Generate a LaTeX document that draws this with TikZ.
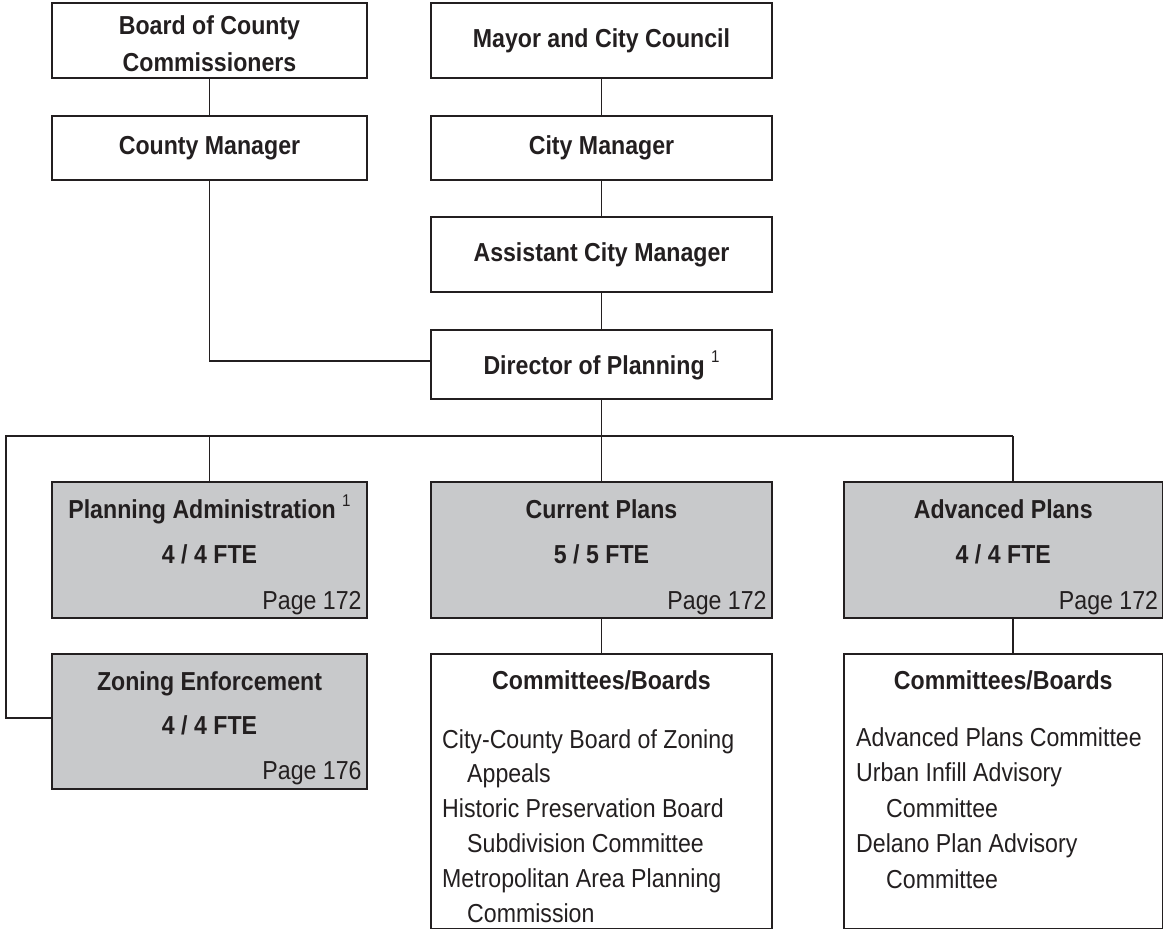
\documentclass[tikz,border=0pt]{standalone}
\usepackage{fontspec}
\setmainfont{Liberation Sans}[FakeStretch=0.89]
\definecolor{ink}{HTML}{231F20}
\definecolor{boxgray}{HTML}{C8C9CB}
\newcommand\fnone{\ \raisebox{12pt}[0pt][0pt]{\fontsize{17}{17}\selectfont\mdseries 1}}
\begin{document}
\begin{tikzpicture}[x=1pt,y=-1pt,
  every node/.style={text=ink,font=\fontsize{26}{35}\selectfont},
  box/.style={draw=ink,rectangle,inner sep=0pt,line width=1.5pt},
  unit/.style={box,fill=boxgray},
  conn/.style={draw=ink,line width=1.5pt,line join=miter},
  hd/.style={font=\fontsize{26}{37}\selectfont\bfseries,align=center,inner sep=0pt},
  hdb/.style={font=\fontsize{26}{37}\selectfont\bfseries,anchor=base,inner sep=0pt},
  pg/.style={anchor=base east,inner sep=0pt},
  li/.style={anchor=base west,inner sep=0pt}]
\useasboundingbox (0,0) rectangle (1164,930);

% boxes
\node[box,minimum width=315pt,minimum height=75pt] (board) at (209.5,40.5) {};
\node[box,minimum width=315pt,minimum height=64pt] (cm) at (209.5,148) {};
\node[box,minimum width=341pt,minimum height=75pt] (mayor) at (601.5,40.5) {};
\node[box,minimum width=341pt,minimum height=64pt] (citym) at (601.5,148) {};
\node[box,minimum width=341pt,minimum height=75pt] (asst) at (601.5,254.5) {};
\node[box,minimum width=341pt,minimum height=69pt] (dir) at (601.5,364.5) {};
\node[unit,minimum width=315pt,minimum height=136pt] (pa) at (209.5,550) {};
\node[unit,minimum width=341pt,minimum height=136pt] (cp) at (601.5,550) {};
\node[unit,minimum width=318.5pt,minimum height=136pt] (ap) at (1003.25,550) {};
\node[unit,minimum width=315pt,minimum height=135pt] (ze) at (209.5,721.5) {};
\node[box,minimum width=341pt,minimum height=274.5pt] (c1) at (601.5,791.25) {};
\node[box,minimum width=318.5pt,minimum height=274.5pt] (c2) at (1003.25,791.25) {};

% connectors
\draw[conn] (board) -- (cm);
\draw[conn] (mayor) -- (citym);
\draw[conn] (citym) -- (asst);
\draw[conn] (asst) -- (dir);
\draw[conn] (cm.south) |- ([yshift=3.5pt]dir.west);
\coordinate (busL) at (6,436);
\coordinate (busR) at (1013,436);
\draw[conn] (busR) -- (busL) |- ([yshift=3.5pt]ze.west);
\draw[conn] (dir.south) -- (cp.north);
\draw[conn] (pa.north) -- (pa.north |- busL);
\coordinate (apn) at ([xshift=9.5pt]ap.north);
\draw[conn] (apn) -- (apn |- busR);
\draw[conn] (cp.south) -- (c1.north);
\draw[conn] ([xshift=9.5pt]ap.south) -- ([xshift=9.5pt]c2.north);

% texts top
\node[hd] (tboard) at ([yshift=-3pt]board.center) {Board of County\\Commissioners};
\node[hd] (tcm) at (cm) {County Manager};
\node[hd] (tmayor) at (mayor) {Mayor and City Council};
\node[hd] (tcity) at (citym) {City Manager};
\node[hd] (tasst) at (asst) {Assistant City Manager};
\node[hd] (tdir) at ([yshift=-3pt]dir.center) {Director of Planning\fnone};

% unit texts
\node[hdb] (tpa1) at ([yshift=-37pt]pa.north) {Planning Administration\fnone};
\node[hdb] (tpa2) at ([yshift=-82pt]pa.north) {4 / 4 FTE};
\node[pg] (tpa3) at ([xshift=-6pt,yshift=-128pt]pa.north east) {Page 172};
\node[hdb] (tcp1) at ([yshift=-37pt]cp.north) {Current Plans};
\node[hdb] (tcp2) at ([yshift=-82pt]cp.north) {5 / 5 FTE};
\node[pg] (tcp3) at ([xshift=-6pt,yshift=-128pt]cp.north east) {Page 172};
\node[hdb] (tap1) at ([yshift=-37pt]ap.north) {Advanced Plans};
\node[hdb] (tap2) at ([yshift=-82pt]ap.north) {4 / 4 FTE};
\node[pg] (tap3) at ([xshift=-5pt,yshift=-128pt]ap.north east) {Page 172};
\node[hdb] (tze1) at ([yshift=-37pt]ze.north) {Zoning Enforcement};
\node[hdb] (tze2) at ([yshift=-81pt]ze.north) {4 / 4 FTE};
\node[pg] (tze3) at ([xshift=-6pt,yshift=-126pt]ze.north east) {Page 176};

% committees 1
\node[hdb] (tc1h) at ([yshift=-36pt]c1.north) {Committees/Boards};
\node[li] (c1a) at (442,748) {City-County Board of Zoning};
\node[li] (c1b) at (467,782.8) {Appeals};
\node[li] (c1c) at (442,817.6) {Historic Preservation Board};
\node[li] (c1d) at (467,852.4) {Subdivision Committee};
\node[li] (c1e) at (442,887.2) {Metropolitan Area Planning};
\node[li] (c1f) at (467,922) {Commission};

% committees 2
\node[hdb] (tc2h) at ([yshift=-36pt]c2.north) {Committees/Boards};
\node[li] (c2a) at (856,746) {Advanced Plans Committee};
\node[li] (c2b) at (856,781.5) {Urban Infill Advisory};
\node[li] (c2c) at (886,817) {Committee};
\node[li] (c2d) at (856,852.5) {Delano Plan Advisory};
\node[li] (c2e) at (886,888) {Committee};
\end{tikzpicture}
\end{document}
